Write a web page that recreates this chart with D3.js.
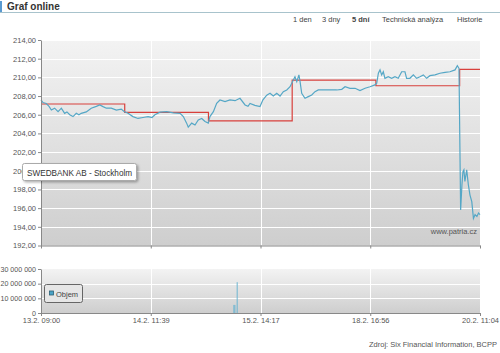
<!DOCTYPE html>
<head>
  <meta charset="utf-8">
  <title>Graf online</title>
  <style>
    body { margin: 0; background: #fff; }
    * { font-family: "Liberation Sans", Arial, sans-serif; }
    .axis text { fill: #555; font-size: 7.5px; }
    .axis.vol text { font-size: 7.1px; }
    .axis path, .axis line { stroke: #888; }
  </style>
</head>
<body>
  <div id="viz"></div>
  <script src="https://d3js.org/d3.v7.min.js"></script>
  <script>
    // trading minutes counted from 13.2. 09:00 (session 09:00-17:30)
    let priceTime = [0, 12, 32, 49, 63, 83, 104, 124, 144, 158, 175, 195, 215, 231, 245, 276, 306, 337, 358, 378, 398, 428, 459, 489, 506,
      530, 560, 591, 621, 652, 676, 694, 725, 766, 806, 847, 867, 887, 897, 918, 938, 958, 979, 999, 1019,
      1029, 1050, 1070, 1090, 1121, 1151, 1182, 1212, 1243, 1261, 1273, 1303, 1334, 1352, 1375, 1395, 1415, 1436, 1456, 1476, 1497, 1517,
      1537, 1547, 1558, 1571, 1578, 1588, 1608, 1628, 1649, 1669, 1689, 1740, 1801, 1832, 1852, 1882, 1913, 1943, 1974, 2004, 2034,
      2045, 2055, 2065, 2075, 2085, 2095, 2115, 2136, 2156, 2176, 2197, 2217, 2227, 2247, 2268, 2288, 2308, 2329, 2349, 2369, 2400, 2430, 2461, 2491, 2522, 2536, 2546,
      2556, 2564, 2570, 2576, 2582, 2593, 2603, 2613, 2624, 2634, 2644, 2655, 2665, 2674];
    let priceValue = [207.6, 207.3, 207.2, 206.9, 206.5, 206.7, 206.33, 206.7, 206.15, 206.3, 206.0, 205.8, 206.15, 206.0, 206.15, 206.3, 206.7, 206.9, 207.05, 206.87, 206.7, 206.7, 206.5, 206.6, 206.35,
      206.15, 205.8, 205.6, 205.7, 205.8, 205.7, 206.0, 206.27, 206.33, 206.2, 206.15, 205.8, 205.1, 204.67, 205.1, 204.9, 205.45, 205.6, 205.27, 205.1,
      205.8, 206.33, 207.23, 207.58, 207.4, 207.58, 207.5, 207.76, 207.05, 206.9, 207.2, 207.0, 206.87, 207.6, 208.1, 208.3, 208.0, 208.3, 208.0, 208.47, 208.65, 209.0,
      209.72, 210.07, 209.54, 210.26, 209.54, 208.3, 207.76, 207.94, 208.12, 208.47, 208.65, 208.65, 208.65, 208.72, 209.0, 208.83, 208.83, 208.58, 208.83, 209.0, 209.19,
      209.37, 210.44, 210.8, 210.26, 210.6, 209.9, 210.07, 209.9, 210.07, 209.9, 210.6, 210.6, 209.9, 209.9, 210.26, 209.9, 210.07, 210.26, 209.9, 210.18, 210.26, 210.44, 210.54, 210.6, 210.8, 211.25, 210.97,
      195.8, 198.5, 199.9, 200.1, 198.85, 200.1, 198.5, 197.4, 196.7, 194.9, 195.3, 195.1, 195.47, 195.3];

    // reference price per session
    let dayStart = [0, 510, 1020, 1530, 2040, 2550, 2674];
    let refPrice = [207.15, 206.25, 205.35, 209.7, 209.1, 210.85, 210.85];

    let volumeTime = [1175, 1181, 1195];
    let volumeValue = [5500000, 5500000, 21000000];

    let xTicks = [0, 668.5, 1337, 2005.5, 2674];
    let xTickLabels = ['13.2. 09:00', '14.2. 11:39', '15.2. 14:17', '18.2. 16:56', '20.2. 11:04'];
    let priceTicks = [192, 194, 196, 198, 200, 202, 204, 206, 208, 210, 212, 214];
    let volumeTicks = [0, 10000000, 20000000, 30000000];

    let svg = d3.select('#viz')
      .append('svg')
      .attr('width', 500)
      .attr('height', 353);

    let defs = svg.append('defs');
    let grad = defs.append('linearGradient')
      .attr('id', 'bg')
      .attr('x1', 0).attr('y1', 0).attr('x2', 0).attr('y2', 1);
    grad.append('stop').attr('offset', '0%').attr('stop-color', '#f3f3f3');
    grad.append('stop').attr('offset', '100%').attr('stop-color', '#cecece');

    let shadow = defs.append('filter').attr('id', 'shadow')
      .attr('x', '-10%').attr('y', '-30%').attr('width', '130%').attr('height', '180%');
    shadow.append('feDropShadow').attr('dx', 1.5).attr('dy', 1.5).attr('stdDeviation', 1.2)
      .attr('flood-color', '#000').attr('flood-opacity', 0.3);

    // header
    svg.append('rect').attr('x', 0).attr('y', 1).attr('width', 2).attr('height', 11).attr('fill', '#5a9ad0');
    svg.append('text').attr('x', 7).attr('y', 10).text('Graf online')
      .style('font-size', '10px').style('font-weight', 'bold').style('fill', '#333');
    svg.append('line').attr('x1', 0).attr('x2', 500).attr('y1', 12.5).attr('y2', 12.5)
      .attr('stroke', '#a8c3cc').attr('stroke-width', 1);

    let nav = [['1 den', 293, false], ['3 dny', 322, false], ['5 dní', 352, true], ['Technická analýza', 382, false], ['Historie', 457, false]];
    nav.forEach(n => {
      svg.append('text').attr('x', n[1]).attr('y', 22).text(n[0])
        .style('font-size', '7.5px').style('fill', '#444')
        .style('font-weight', n[2] ? 'bold' : 'normal');
    });

    let left = 41, right = 480;
    let x = d3.scaleLinear().domain([0, 2674]).range([left, right]);
    let y = d3.scaleLinear().domain([192, 214]).range([245.5, 40]);
    let yv = d3.scaleLinear().domain([0, 30000000]).range([313, 269]);

    // main panel
    svg.append('rect').attr('x', left).attr('y', 40).attr('width', right - left).attr('height', 205.5).attr('fill', 'url(#bg)');
    svg.append('g').selectAll('line').data(priceTicks.slice(1)).join('line')
      .attr('x1', left).attr('x2', right).attr('y1', d => Math.round(y(d)) + 0.5).attr('y2', d => Math.round(y(d)) + 0.5)
      .attr('stroke', '#fff');
    svg.append('g').selectAll('line').data(xTicks.slice(1, 4)).join('line')
      .attr('x1', d => Math.round(x(d)) + 0.5).attr('x2', d => Math.round(x(d)) + 0.5).attr('y1', 40).attr('y2', 245.5)
      .attr('stroke', '#fff');

    // volume panel
    svg.append('rect').attr('x', left).attr('y', 269).attr('width', right - left).attr('height', 44).attr('fill', 'url(#bg)');
    svg.append('g').selectAll('line').data(volumeTicks.slice(1, 3)).join('line')
      .attr('x1', left).attr('x2', right).attr('y1', d => Math.round(yv(d)) + 0.5).attr('y2', d => Math.round(yv(d)) + 0.5)
      .attr('stroke', '#fff');
    svg.append('g').selectAll('line').data(xTicks.slice(1, 4)).join('line')
      .attr('x1', d => Math.round(x(d)) + 0.5).attr('x2', d => Math.round(x(d)) + 0.5).attr('y1', 269).attr('y2', 313)
      .attr('stroke', '#fff');

    // reference step line
    let ref = dayStart.map((t, i) => ({ t: t, v: refPrice[i] }));
    svg.append('path').datum(ref)
      .attr('d', d3.line().x(d => x(d.t)).y(d => y(d.v)).curve(d3.curveStepAfter))
      .attr('fill', 'none').attr('stroke', '#d8403c').attr('stroke-width', 1.2);

    // price line
    let price = priceTime.map((t, i) => ({ t: t, v: priceValue[i] }));
    svg.append('path').datum(price)
      .attr('d', d3.line().x(d => x(d.t)).y(d => y(d.v)))
      .attr('fill', 'none').attr('stroke', '#55a7c6').attr('stroke-width', 1.2);

    // volume bars
    svg.append('g').selectAll('line').data(volumeTime).join('line')
      .attr('x1', d => x(d)).attr('x2', d => x(d))
      .attr('y1', yv(0)).attr('y2', (d, i) => yv(volumeValue[i]))
      .attr('stroke', '#6db5d2').attr('stroke-width', 1);

    // axes
    let fmtPrice = d => d.toFixed(2).replace('.', ',');
    svg.append('g').attr('class', 'axis').attr('transform', `translate(${left},0)`)
      .call(d3.axisLeft(y).tickValues(priceTicks).tickFormat(fmtPrice).tickSize(3).tickPadding(2).tickSizeOuter(0));
    svg.append('g').attr('class', 'axis').attr('transform', 'translate(0,245.5)')
      .call(d3.axisBottom(x).tickValues(xTicks).tickFormat('').tickSize(3).tickSizeOuter(0));

    let fmtVol = d => d3.format(',')(d).replace(/,/g, ' ');
    svg.append('g').attr('class', 'axis vol').attr('transform', `translate(${left},0)`)
      .call(d3.axisLeft(yv).tickValues(volumeTicks).tickFormat(fmtVol).tickSize(3).tickPadding(2).tickSizeOuter(0));
    svg.append('g').attr('class', 'axis').attr('transform', 'translate(0,313)')
      .call(d3.axisBottom(x).tickValues(xTicks).tickFormat((d, i) => xTickLabels[i]).tickSize(3).tickPadding(2).tickSizeOuter(0));

    // watermark
    svg.append('text').attr('x', 477).attr('y', 234).attr('text-anchor', 'end').text('www.patria.cz')
      .style('font-size', '7.5px').style('fill', '#555');

    // tooltip
    svg.append('rect').attr('x', 22.5).attr('y', 163.5).attr('width', 114).attr('height', 17).attr('rx', 2)
      .attr('fill', '#fff').attr('stroke', '#aaa').attr('filter', 'url(#shadow)');
    svg.append('text').attr('x', 27).attr('y', 175.5).text('SWEDBANK AB - Stockholm')
      .style('font-size', '8.2px').style('fill', '#333');

    // legend
    svg.append('rect').attr('x', 44.5).attr('y', 284.5).attr('width', 38).attr('height', 18).attr('rx', 2)
      .attr('fill', '#e6e6e6').attr('stroke', '#666');
    svg.append('rect').attr('x', 49.5).attr('y', 291).attr('width', 4).attr('height', 4)
      .attr('fill', '#4aa3c6').attr('stroke', '#2b5f74').attr('stroke-width', 0.8);
    svg.append('text').attr('x', 56).attr('y', 296.5).text('Objem')
      .style('font-size', '7.5px').style('fill', '#444');

    // source
    svg.append('text').attr('x', 497).attr('y', 347).attr('text-anchor', 'end').text('Zdroj: Six Financial Information, BCPP')
      .style('font-size', '7.5px').style('fill', '#555');
  </script>
</body>
</html>
